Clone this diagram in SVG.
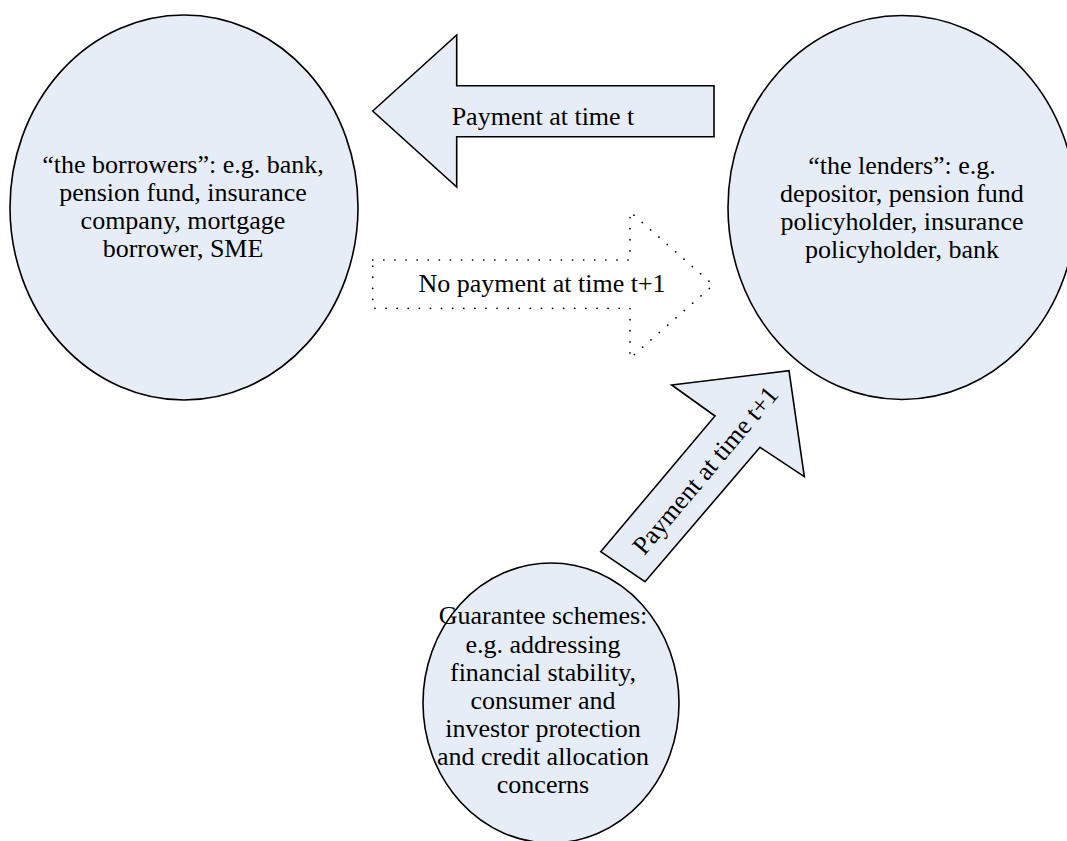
<svg xmlns="http://www.w3.org/2000/svg" width="1067" height="841" viewBox="0 0 1067 841">
<style>
.node{fill:#E7EDF7;stroke:#000;stroke-width:1.6}
.arrow{fill:#E7EDF7;stroke:#000;stroke-width:1.6;stroke-linejoin:miter}
.dotted{fill:none;stroke:#000;stroke-width:1.7;stroke-dasharray:0.1 11;stroke-linecap:round}
.t{font-family:"Liberation Serif","Times New Roman",serif;font-size:26px;fill:#000;text-anchor:middle}
</style>
<rect width="1067" height="841" fill="#fff"/>
<g id="connectors">
  <g id="payment-t">
    <polygon class="arrow" points="372.7,111 456.7,35 456.7,85.7 714,85.7 714,136.7 456.7,136.7 456.7,187"/>
    <text class="t" x="543" y="125">Payment at time t</text>
  </g>
  <g id="no-payment">
    <polygon class="dotted" points="372.7,260 630,260 630,211.7 713.3,285 630,358.3 630,308.3 372.7,308.3"/>
    <text class="t" x="542" y="292">No payment at time t+1</text>
  </g>
  <g id="payment-t1">
    <polygon class="arrow" points="600.7,551.7 715,416 671.7,385 789,370.7 804.3,476.7 760,447.3 645,581.7"/>
    <text class="t" transform="translate(705,470) rotate(-50)" x="0" y="9">Payment at time t+1</text>
  </g>
</g>
<g id="borrowers">
  <ellipse class="node" cx="184" cy="207.5" rx="174" ry="192.5"/>
  <text class="t" x="183" y="173">“the borrowers”: e.g. bank,</text>
  <text class="t" x="183" y="201">pension fund, insurance</text>
  <text class="t" x="183" y="229">company, mortgage</text>
  <text class="t" x="183" y="257">borrower, SME</text>
</g>
<g id="lenders">
  <ellipse class="node" cx="902" cy="207.5" rx="174" ry="192"/>
  <text class="t" x="902" y="174">“the lenders”: e.g.</text>
  <text class="t" x="902" y="202">depositor, pension fund</text>
  <text class="t" x="902" y="230">policyholder, insurance</text>
  <text class="t" x="902" y="258">policyholder, bank</text>
</g>
<g id="guarantee">
  <ellipse class="node" cx="551" cy="703" rx="128" ry="140"/>
  <text class="t" x="543" y="624.3">Guarantee schemes:</text>
  <text class="t" x="543" y="652.7">e.g. addressing</text>
  <text class="t" x="543" y="680.7">financial stability,</text>
  <text class="t" x="543" y="709">consumer and</text>
  <text class="t" x="543" y="736.7">investor protection</text>
  <text class="t" x="543" y="765">and credit allocation</text>
  <text class="t" x="543" y="793.3">concerns</text>
</g>
</svg>
